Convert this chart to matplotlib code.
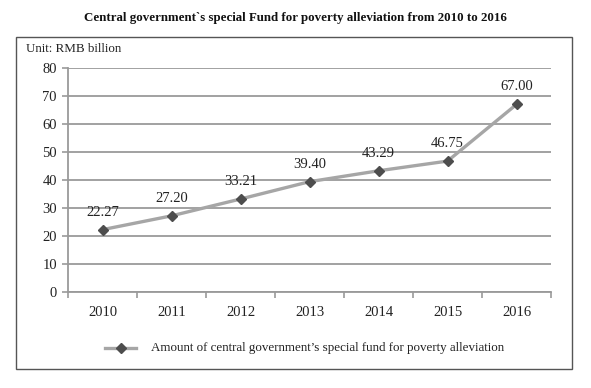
import matplotlib.pyplot as plt
from matplotlib.patches import Rectangle
from matplotlib.lines import Line2D

years = ['2010', '2011', '2012', '2013', '2014', '2015', '2016']
fund = [22.27, 27.20, 33.21, 39.40, 43.29, 46.75, 67.00]
y_ticks = [0, 10, 20, 30, 40, 50, 60, 70, 80]

plt.rcParams['font.family'] = ['Liberation Serif', 'DejaVu Serif']

W, H = 591, 388
fig = plt.figure(figsize=(W / 100, H / 100), dpi=100)
ax = fig.add_axes([68 / W, 1 - 292 / H, (551 - 68) / W, (292 - 68) / H])

grid_c = '#9a9a9a'
text_c = '#222222'

# 外框
fig.patches.append(Rectangle((16 / W, 1 - 369 / H), (572 - 16) / W, (369 - 37) / H,
                             transform=fig.transFigure, fill=False,
                             edgecolor='#555555', linewidth=1.0))

x = list(range(len(years)))
ax.plot(x, fund, color='#a6a6a6', linewidth=2.4, marker='D', markersize=5,
        markerfacecolor='#4d4d4d', markeredgecolor='#4d4d4d', zorder=3)

for xi, v in zip(x, fund):
    ax.annotate(f'{v:.2f}', (xi, v), textcoords='offset points', xytext=(0, 8),
                ha='center', va='bottom', fontsize=10.5, color=text_c)

ax.set_xlim(-0.5, len(years) - 0.5)
ax.set_ylim(0, 80)
ax.set_yticks(y_ticks)
ax.set_yticklabels([str(t) for t in y_ticks])
ax.set_xticks(x)
ax.set_xticklabels(years)
ax.set_xticks([i - 0.5 for i in range(len(years) + 1)], minor=True)
ax.tick_params(axis='x', which='major', length=0, pad=10, labelsize=10.5, labelcolor=text_c)
ax.tick_params(axis='x', which='minor', length=4, width=1.2, color=grid_c, direction='out')
ax.tick_params(axis='y', length=4, width=1.2, color=grid_c, direction='out',
               pad=4, labelsize=10.5, labelcolor=text_c)

ax.yaxis.grid(True, color=grid_c, linewidth=1.3)
ax.set_axisbelow(True)
for s in ['top', 'right']:
    ax.spines[s].set_visible(False)
for s in ['left', 'bottom']:
    ax.spines[s].set_color(grid_c)
    ax.spines[s].set_linewidth(1.3)

fig.text(0.5, 1 - 18 / H, 'Central government`s special Fund for poverty alleviation from 2010 to 2016',
         ha='center', va='center', fontsize=9.3, fontweight='bold', color='#111111')
fig.text(26 / W, 1 - 49 / H, 'Unit: RMB billion', ha='left', va='center',
         fontsize=9.4, color=text_c)

# 图例
fig.lines.append(Line2D([105 / W, 136 / W], [1 - 348 / H, 1 - 348 / H],
                        transform=fig.transFigure, color='#a6a6a6', linewidth=2.4))
fig.lines.append(Line2D([121 / W], [1 - 348 / H], transform=fig.transFigure,
                        marker='D', markersize=5, color='#4d4d4d', linestyle='none'))
fig.text(151 / W, 1 - 348 / H, 'Amount of central government\u2019s special fund for poverty alleviation',
         ha='left', va='center', fontsize=9.4, color=text_c)

fig.savefig('out.png', dpi=100)
